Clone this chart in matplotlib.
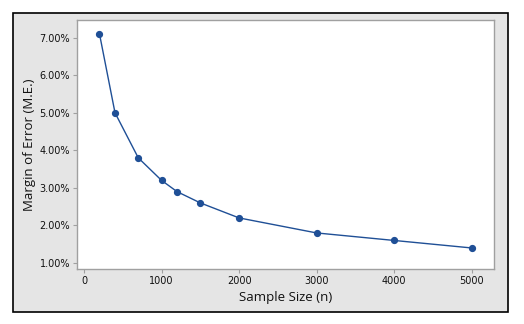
import matplotlib
matplotlib.use("Agg")
import matplotlib.pyplot as plt
from matplotlib.patches import Rectangle
from matplotlib.ticker import FuncFormatter

# sample sizes and the margin of error at each
sample_size = [200, 400, 700, 1000, 1200, 1500, 2000, 3000, 4000, 5000]
margin_error = [7.1, 5.0, 3.8, 3.2, 2.9, 2.6, 2.2, 1.8, 1.6, 1.4]
x_ticks = [0, 1000, 2000, 3000, 4000, 5000]
y_ticks = [1, 2, 3, 4, 5, 6, 7]

line_color = "#1f4f96"
spine_color = "#a0a0a0"

fig = plt.figure(figsize=(5.24, 3.24), dpi=100, facecolor="white")

# gray panel with black frame behind the plot
fig.patches.append(Rectangle((13 / 524, 12 / 324), 495 / 524, 299 / 324,
                             transform=fig.transFigure, facecolor="#e5e5e5",
                             edgecolor="black", linewidth=1.2, zorder=-10))

ax = fig.add_axes([77 / 524, 55 / 324, 417 / 524, 249 / 324])
ax.set_zorder(1)
ax.set_facecolor("white")
ax.plot(sample_size, margin_error, color=line_color, linewidth=1.0,
        marker="o", markersize=4.2, markerfacecolor=line_color,
        markeredgecolor=line_color)

ax.set_xlim(-90, 5287)
ax.set_ylim(0.84, 7.47)
ax.set_xticks(x_ticks)
ax.set_yticks(y_ticks)
ax.yaxis.set_major_formatter(FuncFormatter(lambda v, p: f"{v:.2f}%"))

for s in ax.spines.values():
    s.set_color(spine_color)
    s.set_linewidth(1.0)
ax.tick_params(direction="out", length=3, width=0.8, color=spine_color,
               labelsize=7, labelcolor="#111111", pad=2)

ax.set_xlabel("Sample Size (n)", fontsize=9.5, family="Open Sans",
              color="#111111")
ax.set_ylabel("Margin of Error (M.E.)", fontsize=9.5, family="Open Sans",
              color="#111111")
ax.xaxis.set_label_coords(0.5, -0.09)
ax.yaxis.set_label_coords(-0.098, 0.5)

fig.savefig("out.png", dpi=100, facecolor="white")
